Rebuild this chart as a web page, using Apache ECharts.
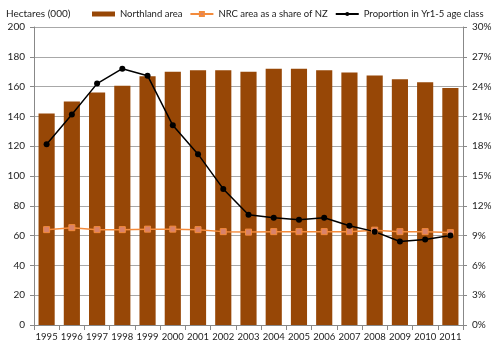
<!DOCTYPE html>
<html><head><meta charset="utf-8">
<script src="https://cdn.jsdelivr.net/npm/echarts@6/dist/echarts.min.js"></script>
<style>html,body{margin:0;padding:0;background:#fff}#c{width:500px;height:351px}</style>
</head><body><div id="c"></div>
<script>
const years = ['1995','1996','1997','1998','1999','2000','2001','2002','2003','2004','2005','2006','2007','2008','2009','2010','2011'];
const northlandArea = [142,150,156,160.5,167,170,171,171,170,172,172,171,169.5,167.5,165,163,159];
const nrcShare = [9.6,9.8,9.6,9.6,9.65,9.65,9.6,9.4,9.35,9.4,9.4,9.4,9.4,9.55,9.4,9.4,9.3];
const propYr1to5 = [18.2,21.2,24.3,25.8,25.1,20.1,17.2,13.7,11.1,10.8,10.6,10.8,10.0,9.4,8.4,8.6,9.0];
const leftTicks = {min:0,max:200,interval:20};
const rightTicks = {min:0,max:30,interval:3};

const font = 'Lato';
const chart = echarts.init(document.getElementById('c'));
chart.setOption({
  animation:false,
  textStyle:{fontFamily:font},
  title:{text:'Hectares (000)',left:6,top:9,padding:0,textStyle:{fontSize:10,fontWeight:'normal',color:'#222',fontFamily:font}},
  legend:{top:9,left:92,width:400,padding:0,itemGap:7,itemWidth:23,itemHeight:5,textStyle:{fontSize:9.5,color:'#222',fontFamily:font},
    data:[{name:'Northland area',icon:'rect'},{name:'NRC area as a share of NZ'},{name:'Proportion in Yr1-5 age class'}]},
  grid:{left:34,right:37,top:27,bottom:26},
  xAxis:{type:'category',data:years,boundaryGap:true,
    axisLine:{lineStyle:{color:'#888'}},axisTick:{show:true,interval:0,alignWithLabel:false,lineStyle:{color:'#888'}},
    axisLabel:{interval:0,fontSize:9.5,color:'#222',margin:7}},
  yAxis:[
    {type:'value',min:leftTicks.min,max:leftTicks.max,interval:leftTicks.interval,
     axisLine:{show:true,lineStyle:{color:'#888'}},axisTick:{show:true,length:4,lineStyle:{color:'#888'}},
     axisLabel:{fontSize:10,color:'#222',margin:9},splitLine:{lineStyle:{color:'#a8a8a8'}}},
    {type:'value',min:rightTicks.min,max:rightTicks.max,interval:rightTicks.interval,position:'right',
     axisLine:{show:true,lineStyle:{color:'#888'}},axisTick:{show:true,length:4,lineStyle:{color:'#888'}},
     axisLabel:{fontSize:10,color:'#222',margin:9,formatter:'{value}%'},splitLine:{show:false}}
  ],
  series:[
    {name:'Northland area',type:'bar',data:northlandArea,barCategoryGap:'36%',itemStyle:{color:'#974706'}},
    {name:'NRC area as a share of NZ',type:'line',yAxisIndex:1,data:nrcShare,symbol:'rect',symbolSize:6,
     lineStyle:{color:'#F38B3C',width:1.5},itemStyle:{color:'#D9826A',borderColor:'#F38B3C',borderWidth:1}},
    {name:'Proportion in Yr1-5 age class',type:'line',yAxisIndex:1,data:propYr1to5,symbol:'circle',symbolSize:6,
     lineStyle:{color:'#000',width:1.5},itemStyle:{color:'#000'}}
  ]
});
</script></body></html>
